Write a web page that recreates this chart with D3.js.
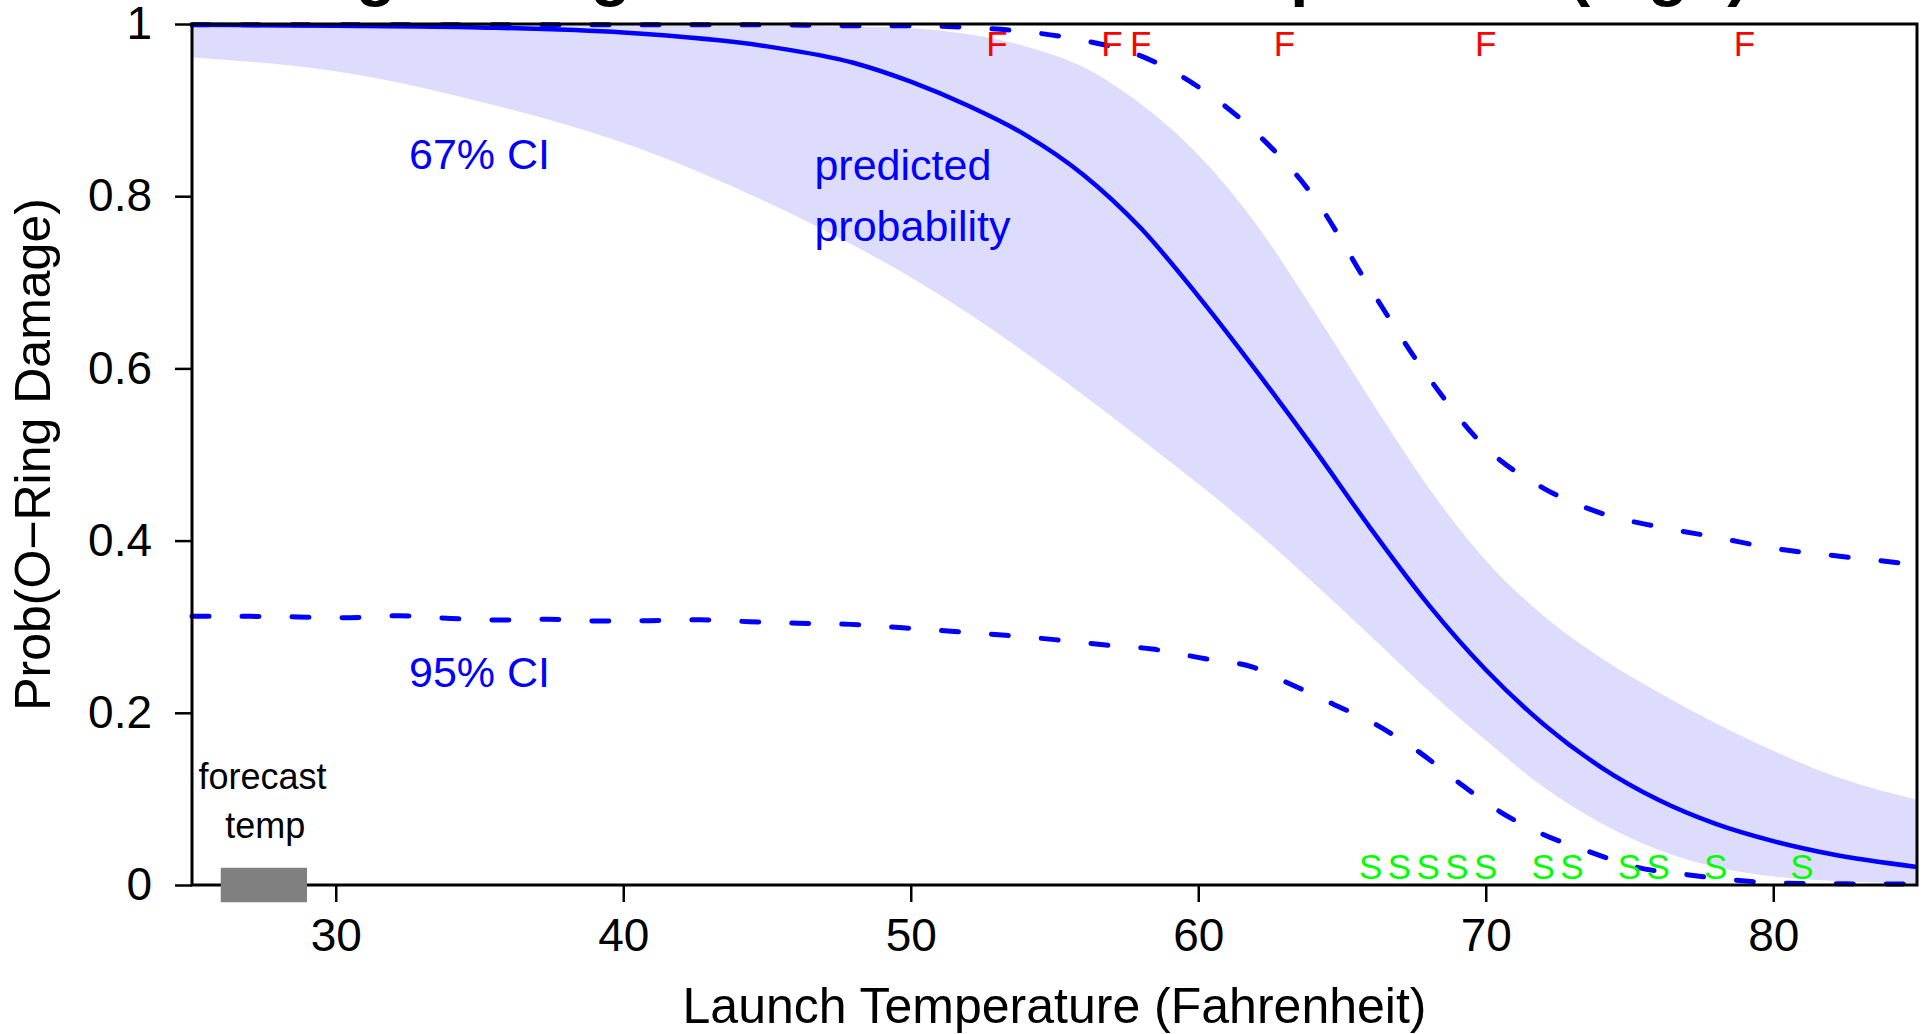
<!DOCTYPE html>
<html>
<head>
<meta charset="utf-8">
<script src="https://cdn.jsdelivr.net/npm/d3@7"></script>
<style>
  body { margin: 0; background: #fff; }
  svg { display: block; font-family: "Liberation Sans", Arial, Helvetica, sans-serif; }
</style>
</head>
<body>
<svg id="chart_svg" width="1929" height="1034"></svg>
<script>
// launch temperature grid (F) for the fitted curve and the bands
const tempGrid = [25, 30, 35, 40, 45, 48, 50, 52, 54, 56, 58, 60, 62, 64, 66, 68, 70, 72, 74, 76, 78, 80, 82, 85];
const predictedProb = [0.999, 0.998, 0.996, 0.990, 0.974, 0.955, 0.933, 0.905, 0.871, 0.825, 0.763, 0.684,
  0.598, 0.508, 0.414, 0.326, 0.250, 0.187, 0.137, 0.099, 0.071, 0.051, 0.036, 0.021];
const ci67Upper = [0.999, 0.999, 0.999, 0.999, 0.998, 0.997, 0.995, 0.988, 0.974, 0.950, 0.907, 0.848,
  0.768, 0.668, 0.563, 0.462, 0.377, 0.313, 0.264, 0.224, 0.188, 0.156, 0.128, 0.099];
const ci67Lower = [0.961, 0.945, 0.910, 0.862, 0.793, 0.743, 0.706, 0.664, 0.618, 0.569, 0.518, 0.466,
  0.411, 0.351, 0.289, 0.226, 0.168, 0.114, 0.072, 0.041, 0.021, 0.010, 0.005, 0.002];
const ci95Upper = [0.999, 0.999, 0.999, 0.999, 0.999, 0.998, 0.998, 0.996, 0.991, 0.981, 0.963, 0.927,
  0.874, 0.800, 0.692, 0.590, 0.508, 0.461, 0.432, 0.416, 0.404, 0.391, 0.383, 0.372];

// lower 95% bound read on its own (finer) grid, it wobbles a bit
const ci95LowerTemps = [25, 27, 30.5, 32.2, 34, 35.7, 37.4, 39.2, 40.9, 42.7, 44.4, 46.1, 47.9, 49.6, 51.3,
  53.3, 55, 56.7, 58.4, 60.2, 61.9, 63.1, 64.7, 66.2, 67.7, 69.1, 70.5, 72, 73.6, 75.2, 77, 78.6, 80.4, 85];
const ci95Lower = [0.312, 0.312, 0.3105, 0.3127, 0.3096, 0.3078, 0.3086, 0.3066, 0.307, 0.308, 0.3058, 0.304,
  0.3027, 0.299, 0.295, 0.290, 0.285, 0.279, 0.274, 0.263, 0.253, 0.235, 0.210, 0.186, 0.154, 0.118, 0.085,
  0.0587, 0.0387, 0.021, 0.012, 0.006, 0.002, 0.001];

// observed launches
const failTemps = [53, 57, 58, 63, 70, 79];
const successTemps = [66, 67, 68, 69, 70, 72, 73, 75, 76, 78, 81];
const forecastTemps = [26, 29];

const xTicks = [30, 40, 50, 60, 70, 80];
const yTicks = [0, 0.2, 0.4, 0.6, 0.8, 1];

const svg = d3.select("#chart_svg");
const width = 1929;

const margin = { top: 24, bottom: 149, left: 192, right: 12 };
const plotBottom = 1034 - margin.bottom;
const plotRight = width - margin.right;

const xScale = d3.scaleLinear().domain([25, 85]).range([margin.left, plotRight]);
const yScale = d3.scaleLinear().domain([0, 1]).range([plotBottom, margin.top]);

const bandData = tempGrid.map((t, i) => ({ t: t, lo: ci67Lower[i], hi: ci67Upper[i] }));

// 67% band
svg.append("path")
  .datum(bandData)
  .attr("fill", "#dddcfc")
  .attr("d", d3.area()
    .x(d => xScale(d.t))
    .y0(d => yScale(d.lo))
    .y1(d => yScale(d.hi))
    .curve(d3.curveMonotoneX));

const line = d3.line()
  .x(d => xScale(d[0]))
  .y(d => yScale(d[1]))
  .curve(d3.curveMonotoneX);

// 95% bounds, dashed
svg.append("path")
  .datum(tempGrid.map((t, i) => [t, ci95Upper[i]]))
  .attr("fill", "none")
  .attr("stroke", "#0000ff")
  .attr("stroke-width", 5)
  .attr("stroke-linecap", "round")
  .attr("stroke-dasharray", "17,33")
  .attr("d", line);

svg.append("path")
  .datum(ci95LowerTemps.map((t, i) => [t, ci95Lower[i]]))
  .attr("fill", "none")
  .attr("stroke", "#0000ff")
  .attr("stroke-width", 5)
  .attr("stroke-linecap", "round")
  .attr("stroke-dasharray", "17,33")
  .attr("d", line);

// fitted probability
svg.append("path")
  .datum(tempGrid.map((t, i) => [t, predictedProb[i]]))
  .attr("fill", "none")
  .attr("stroke", "#0000ff")
  .attr("stroke-width", 4.5)
  .attr("d", line);

// frame
svg.append("rect")
  .attr("x", margin.left)
  .attr("y", margin.top)
  .attr("width", plotRight - margin.left)
  .attr("height", plotBottom - margin.top)
  .attr("fill", "none")
  .attr("stroke", "#000")
  .attr("stroke-width", 3);

// axes
let x_axis = d3.axisBottom(xScale).tickValues(xTicks).tickSize(17).tickPadding(16).tickFormat(d => d);
let g_x_axis = svg.append("g")
  .attr("transform", "translate(0," + plotBottom + ")")
  .call(x_axis);

let y_axis = d3.axisLeft(yScale).tickValues(yTicks).tickSize(17).tickPadding(23).tickFormat(d => String(d));
let g_y_axis = svg.append("g")
  .attr("transform", "translate(" + margin.left + ",0)")
  .call(y_axis);

[g_x_axis, g_y_axis].forEach(g => {
  g.select(".domain").remove();
  g.selectAll(".tick line").attr("stroke", "#000").attr("stroke-width", 2.5);
  g.selectAll(".tick text")
    .attr("fill", "#000")
    .style("font-size", "46px")
    .style("font-family", "'Liberation Sans', Arial, sans-serif");
});

// forecast temperature range
svg.append("rect")
  .attr("x", xScale(forecastTemps[0]))
  .attr("y", yScale(0.02))
  .attr("width", xScale(forecastTemps[1]) - xScale(forecastTemps[0]))
  .attr("height", yScale(-0.02) - yScale(0.02))
  .attr("fill", "#808080");

// F = damage, S = no damage
svg.selectAll(".fail_label")
  .data(failTemps)
  .enter()
  .append("text")
  .attr("class", "fail_label")
  .attr("x", d => xScale(d))
  .attr("y", yScale(0.977) + 12.5)
  .attr("text-anchor", "middle")
  .attr("fill", "#ff0000")
  .style("font-size", "35px")
  .text("F");

svg.selectAll(".success_label")
  .data(successTemps)
  .enter()
  .append("text")
  .attr("class", "success_label")
  .attr("x", d => xScale(d))
  .attr("y", yScale(0.022) + 12.5)
  .attr("text-anchor", "middle")
  .attr("fill", "#00ff00")
  .style("font-size", "35px")
  .text("S");

// annotations
svg.append("text")
  .attr("x", xScale(35)).attr("y", yScale(0.85) + 15.5)
  .attr("text-anchor", "middle")
  .attr("fill", "#0000ff")
  .style("font-size", "43px")
  .text("67% CI");

svg.append("text")
  .attr("x", xScale(35)).attr("y", yScale(0.247) + 15)
  .attr("text-anchor", "middle")
  .attr("fill", "#0000ff")
  .style("font-size", "43px")
  .text("95% CI");

let pred_label = svg.append("text")
  .attr("fill", "#0000ff")
  .style("font-size", "43px");
pred_label.append("tspan").attr("x", xScale(46.65)).attr("y", 180).text("predicted");
pred_label.append("tspan").attr("x", xScale(46.65)).attr("y", 241).text("probability");

let fc_label = svg.append("text")
  .attr("text-anchor", "middle")
  .attr("fill", "#000")
  .style("font-size", "36px");
fc_label.append("tspan").attr("x", xScale(27.45)).attr("y", 789).text("forecast");
fc_label.append("tspan").attr("x", xScale(27.55)).attr("y", 838).text("temp");

// axis titles
svg.append("text")
  .attr("x", (margin.left + plotRight) / 2)
  .attr("y", 1023)
  .attr("text-anchor", "middle")
  .attr("fill", "#000")
  .style("font-size", "50px")
  .text("Launch Temperature (Fahrenheit)");

svg.append("text")
  .attr("transform", "translate(50," + (margin.top + plotBottom) / 2 + ") rotate(-90)")
  .attr("text-anchor", "middle")
  .attr("fill", "#000")
  .style("font-size", "50px")
  .text("Prob(O\u2212Ring Damage)");

// main title, sits above the page edge as in the original
svg.append("text")
  .attr("x", 964)
  .attr("y", -6)
  .attr("text-anchor", "middle")
  .attr("fill", "#000")
  .style("font-size", "65px")
  .style("font-weight", "bold")
  .text("O-Ring Damage versus Launch Temperature (logit)");
</script>
</body>
</html>
